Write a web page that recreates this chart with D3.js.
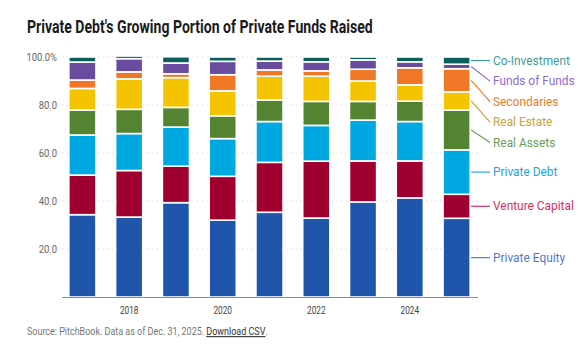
<!DOCTYPE html>
<html>
<head>
<meta charset="utf-8">
<script src="https://cdn.jsdelivr.net/npm/d3@7"></script>
<style>
  body { margin: 0; background: #fff; }
  svg { display: block; font-family: Roboto, "Liberation Sans", sans-serif; }
</style>
</head>
<body>
<div id="chart"></div>
<script>
// years shown as bars
const years = ['2017', '2018', '2019', '2020', '2021', '2022', '2023', '2024', '2025'];
const tickYears = ['2018', '2020', '2022', '2024'];

// share of private funds raised, % (bottom to top)
const privateEquity  = [34.3, 33.3, 39.3, 32.0, 35.3, 32.9, 39.6, 41.3, 32.8];
const ventureCapital = [16.5, 19.4, 15.2, 18.3, 20.8, 23.7, 17.1, 15.4, 10.0];
const privateDebt    = [16.7, 15.4, 16.3, 15.7, 17.0, 14.9, 17.0, 16.4, 18.5];
const realAssets     = [10.4, 10.1,  8.2,  9.5,  9.0, 10.0,  7.8,  8.5, 16.6];
const realEstate     = [ 9.0, 12.7, 12.4, 10.4,  9.9, 10.5,  8.5,  6.8,  7.6];
const secondaries    = [ 3.5,  2.9,  1.6,  6.7,  2.6,  2.2,  4.9,  7.1,  9.6];
const fundsOfFunds   = [ 7.5,  5.5,  4.5,  5.6,  3.7,  3.8,  3.9,  2.5,  1.9];
const coInvestment   = [ 2.1,  1.1,  2.6,  1.8,  1.7,  2.0,  1.2,  2.0,  3.0];

const seriesNames = ['Private Equity', 'Venture Capital', 'Private Debt', 'Real Assets',
  'Real Estate', 'Secondaries', 'Funds of Funds', 'Co-Investment'];
const seriesValues = [privateEquity, ventureCapital, privateDebt, realAssets,
  realEstate, secondaries, fundsOfFunds, coInvestment];
const barColors = ['#1f55ab', '#a0002f', '#00a8e1', '#548431', '#f5c400', '#f07726', '#6a4c9f', '#0b5e5b'];
const labelColors = ['#4f7ad0', '#d2335f', '#29a3dc', '#6e9d55', '#c9a43a', '#f07a2e', '#8b6fca', '#3f9c98'];
const yTicks = [20, 40, 60, 80, 100];

const width = 578, height = 352;
const svg = d3.select('#chart').append('svg')
  .attr('width', width)
  .attr('height', height);

// the original uses a condensed face; squeeze text horizontally around its x
function squeeze(sel, k) {
  sel.each(function () {
    const x0 = +d3.select(this).attr('x');
    d3.select(this).attr('transform', `translate(${x0},0) scale(${k},1) translate(${-x0},0)`);
  });
}
function factorFor(sel, target) {
  return target / sel.node().getComputedTextLength();
}

// title
const title = svg.append('text')
  .attr('x', 27)
  .attr('y', 33)
  .attr('font-size', 18.5)
  .attr('font-weight', 'bold')
  .attr('fill', '#1a1a1a')
  .text("Private Debt's Growing Portion of Private Funds Raised");
squeeze(title, factorFor(title, 346));

// scales
const x = d3.scaleBand()
  .domain(years)
  .range([59, 480])
  .paddingInner(0.42)
  .paddingOuter(0.21);

const y = d3.scaleLinear()
  .domain([0, 100])
  .range([297, 57]);

// gridlines
svg.append('g')
  .selectAll('line')
  .data(yTicks)
  .join('line')
  .attr('x1', 62)
  .attr('x2', 478)
  .attr('y1', d => y(d))
  .attr('y2', d => y(d))
  .attr('stroke', '#d9d9d9')
  .attr('stroke-width', 1)
  .attr('stroke-dasharray', '1.5,3');

// y axis labels
const yLabels = svg.append('g')
  .selectAll('text')
  .data(yTicks)
  .join('text')
  .attr('x', 57)
  .attr('y', d => y(d) + 4)
  .attr('text-anchor', 'end')
  .attr('font-size', 11.5)
  .attr('fill', '#666')
  .text(d => d === 100 ? '100.0%' : d.toFixed(1));
squeeze(yLabels, factorFor(yLabels.filter(d => d === 100), 30.6));

// stack the data
const rows = years.map((yr, i) => {
  const row = { year: yr };
  seriesNames.forEach((name, s) => { row[name] = seriesValues[s][i]; });
  return row;
});
const stacked = d3.stack().keys(seriesNames)(rows);

svg.append('g')
  .selectAll('g')
  .data(stacked)
  .join('g')
  .attr('fill', (d, i) => barColors[i])
  .selectAll('rect')
  .data(d => d)
  .join('rect')
  .attr('x', d => x(d.data.year))
  .attr('width', x.bandwidth())
  .attr('y', d => y(d[1]))
  .attr('height', d => y(d[0]) - y(d[1]))
  .attr('stroke', '#fff')
  .attr('stroke-width', 1.6);

// x axis line
svg.append('line')
  .attr('x1', 62)
  .attr('x2', 478)
  .attr('y1', 297.5)
  .attr('y2', 297.5)
  .attr('stroke', '#8a8a8a')
  .attr('stroke-width', 1.2);

const xLabels = svg.append('g')
  .selectAll('text')
  .data(tickYears)
  .join('text')
  .attr('x', d => x(d) + x.bandwidth() / 2)
  .attr('y', 314)
  .attr('text-anchor', 'middle')
  .attr('font-size', 11.5)
  .attr('fill', '#444')
  .text(d => d);
squeeze(xLabels, factorFor(xLabels, 18.5));

// direct labels for the last bar, pushed apart so they don't overlap
const last = years.length - 1;
const labels = stacked.map((s, i) => ({
  name: seriesNames[i],
  color: labelColors[i],
  anchor: y((s[last][0] + s[last][1]) / 2)
})).sort((a, b) => a.anchor - b.anchor);

const minGap = 20.5;
labels.forEach((l, i) => {
  l.ly = Math.max(l.anchor, 55);
  if (i > 0) l.ly = Math.max(l.ly, labels[i - 1].ly + minGap);
});

const barRight = x(years[last]) + x.bandwidth() + 1;
const lg = svg.append('g');
lg.selectAll('line')
  .data(labels)
  .join('line')
  .attr('x1', barRight)
  .attr('y1', d => d.anchor)
  .attr('x2', 490)
  .attr('y2', d => d.ly)
  .attr('stroke', d => d.color)
  .attr('stroke-width', 1.2);

const lgText = lg.selectAll('text')
  .data(labels)
  .join('text')
  .attr('x', 493)
  .attr('y', d => d.ly + 4)
  .attr('font-size', 12)
  .attr('fill', d => d.color)
  .text(d => d.name);
squeeze(lgText, factorFor(lgText.filter(d => d.name === 'Co-Investment'), 77));

// source line
const src = svg.append('text')
  .attr('x', 27)
  .attr('y', 335)
  .attr('font-size', 11)
  .attr('fill', '#777');
src.append('tspan').text('Source: PitchBook. Data as of Dec. 31, 2025. ');
src.append('tspan')
  .attr('fill', '#333')
  .attr('text-decoration', 'underline')
  .text('Download CSV');
src.append('tspan').text('.');
squeeze(src, factorFor(src, 240));
</script>
</body>
</html>
